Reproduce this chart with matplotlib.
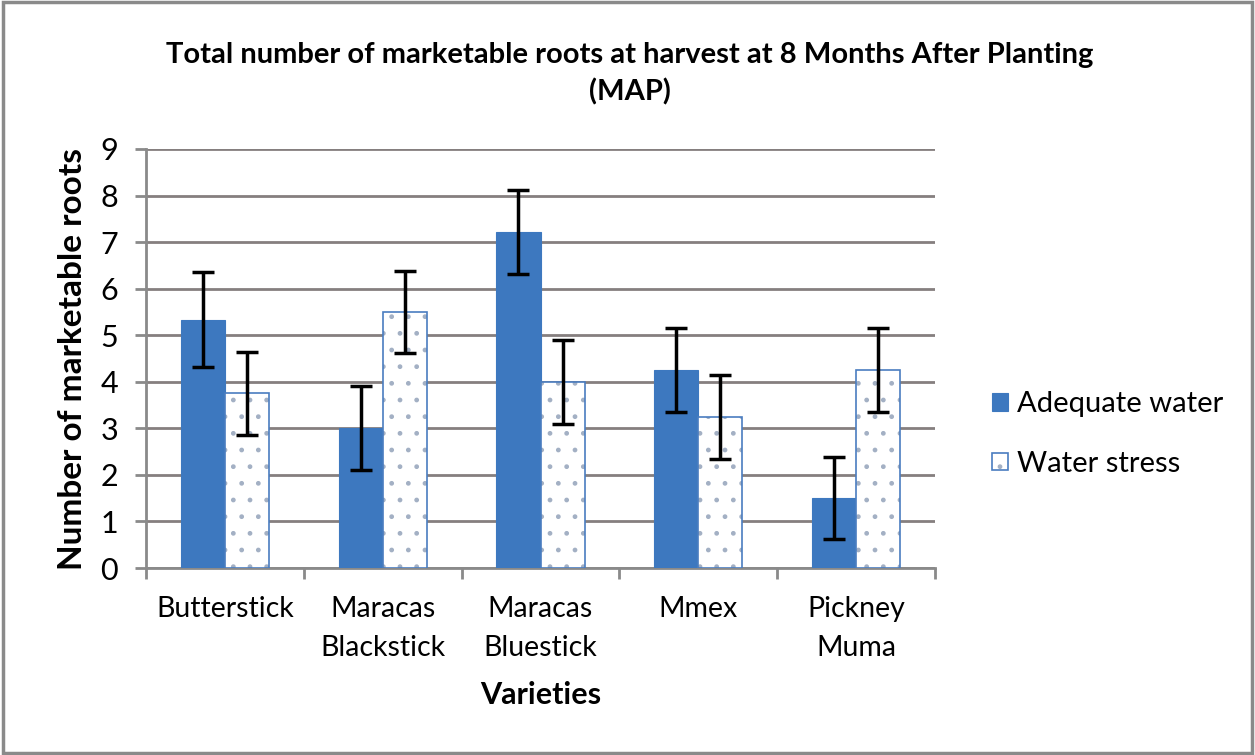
import matplotlib
matplotlib.use("Agg")
import matplotlib.pyplot as plt
import numpy as np
from matplotlib.patches import Rectangle

categories = ["Butterstick", "Maracas\nBlackstick", "Maracas\nBluestick", "Mmex", "Pickney\nMuma"]
adequate = [5.33, 3.0, 7.22, 4.25, 1.5]
adequate_err = [1.02, 0.9, 0.9, 0.9, 0.88]
stress = [3.75, 5.5, 4.0, 3.25, 4.25]
stress_err = [0.9, 0.88, 0.9, 0.9, 0.9]
series_names = ["Adequate water", "Water stress"]
yticks = list(range(0, 10))

plt.rcParams['font.family'] = ['Lato', 'DejaVu Sans']
plt.rcParams['hatch.linewidth'] = 1.0

fig = plt.figure(figsize=(12.55, 7.55), dpi=100)
ax = fig.add_axes([146/1255, 1-568/755, (935-146)/1255, (568-149)/755])

x = np.arange(len(categories))
w = 0.28
blue = '#3d78bf'
b1 = ax.bar(x - w/2, adequate, w, color=blue, edgecolor=blue, linewidth=0.8, zorder=3,
            label=series_names[0])
b2 = ax.bar(x + w/2, stress, w, color='white', edgecolor='#4a7dc0', linewidth=1.2,
            hatch='.', zorder=3, label=series_names[1])
for p in b2:
    p._hatch_color = matplotlib.colors.to_rgba('#a3b0c4')
ax.errorbar(x - w/2, adequate, yerr=adequate_err, fmt='none', ecolor='black',
            elinewidth=2.5, capsize=8, capthick=2.5, zorder=4)
ax.errorbar(x + w/2, stress, yerr=stress_err, fmt='none', ecolor='black',
            elinewidth=2.5, capsize=8, capthick=2.5, zorder=4)

ax.set_xlim(-0.5, len(categories) - 0.5)
ax.set_ylim(0, 9)
ax.set_yticks(yticks)
ax.yaxis.grid(True, color='#857f7f', linewidth=2)
ax.set_axisbelow(True)
for s in ['top', 'right']:
    ax.spines[s].set_visible(False)
ax.spines['left'].set_color('#8a8a8a')
ax.spines['left'].set_linewidth(2)
ax.spines['bottom'].set_color('#8a8a8a')
ax.spines['bottom'].set_linewidth(2)
ax.set_xticks(np.arange(len(categories) + 1) - 0.5, minor=True)
ax.set_xticks(x)
ax.set_xticklabels(categories, fontsize=20.5, linespacing=1.65)
ax.tick_params(axis='x', which='major', length=0, pad=20)
ax.tick_params(axis='x', which='minor', length=8, width=2, color='#8a8a8a')
ax.tick_params(axis='y', length=8, width=2, color='#8a8a8a', labelsize=22, pad=12)

ax.set_ylabel("Number of marketable roots", fontsize=24, fontweight='bold', labelpad=10)
ax.set_xlabel("Varieties", fontsize=22, fontweight='bold', labelpad=14)
fig.text(630/1255, 1-74/755, "Total number of marketable roots at harvest at 8 Months After Planting\n(MAP)",
         ha='center', va='center', fontsize=21, fontweight='bold', linespacing=1.45)

leg = fig.legend(handles=[b1, b2], labels=series_names, loc='center left',
                 bbox_to_anchor=(966/1255, 1-434/755), frameon=False, fontsize=21,
                 handlelength=0.55, handleheight=0.55, handletextpad=0.3, labelspacing=1.15)

fig.patches.append(Rectangle((0.002, 0.003), 0.996, 0.994, transform=fig.transFigure,
                             fill=False, edgecolor='#8a8a8a', linewidth=2.5))

fig.savefig("out.png", dpi=100)
